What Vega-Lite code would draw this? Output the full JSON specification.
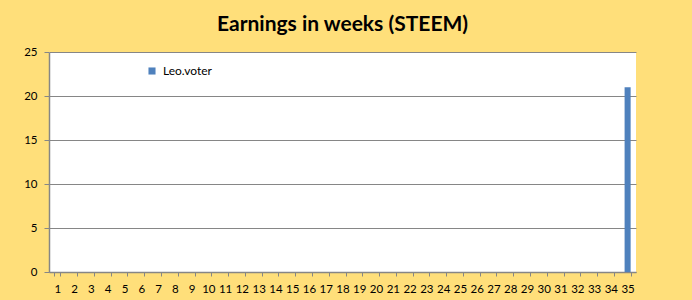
{
  "$schema": "https://vega.github.io/schema/vega-lite/v6.json",
  "autosize": {"type": "none"},
  "width": 587,
  "height": 220,
  "padding": {"left": 49, "top": 52, "right": 56, "bottom": 28},
  "background": "#FFDF7A",
  "title": {
    "text": "Earnings in weeks (STEEM)",
    "font": "Lato",
    "fontSize": 21,
    "fontWeight": "bold",
    "color": "#000000",
    "anchor": "middle",
    "offset": 11
  },
  "data": {
    "values": [
      {"week": 1, "value": 0, "series": "Leo.voter"},
      {"week": 2, "value": 0, "series": "Leo.voter"},
      {"week": 3, "value": 0, "series": "Leo.voter"},
      {"week": 4, "value": 0, "series": "Leo.voter"},
      {"week": 5, "value": 0, "series": "Leo.voter"},
      {"week": 6, "value": 0, "series": "Leo.voter"},
      {"week": 7, "value": 0, "series": "Leo.voter"},
      {"week": 8, "value": 0, "series": "Leo.voter"},
      {"week": 9, "value": 0, "series": "Leo.voter"},
      {"week": 10, "value": 0, "series": "Leo.voter"},
      {"week": 11, "value": 0, "series": "Leo.voter"},
      {"week": 12, "value": 0, "series": "Leo.voter"},
      {"week": 13, "value": 0, "series": "Leo.voter"},
      {"week": 14, "value": 0, "series": "Leo.voter"},
      {"week": 15, "value": 0, "series": "Leo.voter"},
      {"week": 16, "value": 0, "series": "Leo.voter"},
      {"week": 17, "value": 0, "series": "Leo.voter"},
      {"week": 18, "value": 0, "series": "Leo.voter"},
      {"week": 19, "value": 0, "series": "Leo.voter"},
      {"week": 20, "value": 0, "series": "Leo.voter"},
      {"week": 21, "value": 0, "series": "Leo.voter"},
      {"week": 22, "value": 0, "series": "Leo.voter"},
      {"week": 23, "value": 0, "series": "Leo.voter"},
      {"week": 24, "value": 0, "series": "Leo.voter"},
      {"week": 25, "value": 0, "series": "Leo.voter"},
      {"week": 26, "value": 0, "series": "Leo.voter"},
      {"week": 27, "value": 0, "series": "Leo.voter"},
      {"week": 28, "value": 0, "series": "Leo.voter"},
      {"week": 29, "value": 0, "series": "Leo.voter"},
      {"week": 30, "value": 0, "series": "Leo.voter"},
      {"week": 31, "value": 0, "series": "Leo.voter"},
      {"week": 32, "value": 0, "series": "Leo.voter"},
      {"week": 33, "value": 0, "series": "Leo.voter"},
      {"week": 34, "value": 0, "series": "Leo.voter"},
      {"week": 35, "value": 21, "series": "Leo.voter"}
    ]
  },
  "mark": {"type": "bar"},
  "encoding": {
    "x": {
      "field": "week",
      "type": "ordinal",
      "sort": null,
      "scale": {"paddingInner": 0.64, "paddingOuter": 0.32},
      "axis": {
        "title": null,
        "labelAngle": 0,
        "labelFont": "Lato",
        "labelFontSize": 11.5,
        "labelColor": "#000000",
        "labelPadding": 7,
        "tickBand": "extent",
        "tickSize": 4,
        "tickColor": "#868686",
        "domainColor": "#868686",
        "domainWidth": 1.5,
        "grid": false
      }
    },
    "y": {
      "field": "value",
      "type": "quantitative",
      "scale": {"domain": [0, 25], "nice": false},
      "axis": {
        "title": null,
        "values": [0, 5, 10, 15, 20, 25],
        "labelFont": "Lato",
        "labelFontSize": 11.5,
        "labelColor": "#000000",
        "labelPadding": 7,
        "tickSize": 5,
        "tickColor": "#868686",
        "domainColor": "#868686",
        "domainWidth": 1.5,
        "grid": true,
        "gridColor": "#868686",
        "gridWidth": 1
      }
    },
    "color": {
      "field": "series",
      "type": "nominal",
      "scale": {"range": ["#4F81BD"]},
      "legend": {
        "title": null,
        "orient": "none",
        "legendX": 97,
        "legendY": 13,
        "padding": 0,
        "symbolType": "square",
        "symbolSize": 50,
        "symbolStrokeWidth": 0,
        "labelFont": "Lato",
        "labelFontSize": 12,
        "labelColor": "#000000",
        "labelOffset": 5
      }
    }
  },
  "config": {
    "view": {"stroke": null, "fill": "#FFFFFF"}
  }
}
